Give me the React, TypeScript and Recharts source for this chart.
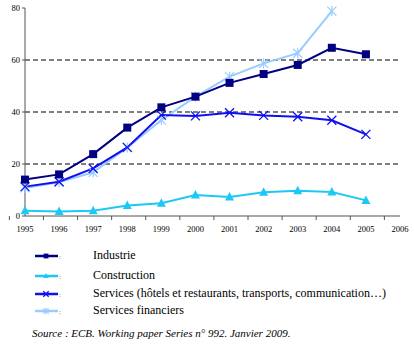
import { LineChart, Line, XAxis, YAxis, ReferenceLine } from "recharts";

const years = ["1995", "1996", "1997", "1998", "1999", "2000", "2001", "2002", "2003", "2004", "2005", "2006"];
const industrie = [14, 16, 23.8, 34, 41.8, 45.9, 51.2, 54.6, 58.1, 64.7, 62.2, null];
const construction = [2, 1.7, 2, 4, 4.9, 8.1, 7.3, 9.1, 9.7, 9.2, 6, null];
const services = [11.3, 13.2, 18.3, 26.4, 38.8, 38.5, 39.7, 38.7, 38.2, 36.8, 31.4, null];
const financiers = [10.8, 13, 16.8, 26.3, 36.9, 45.9, 53.6, 58.7, 62.6, 78.8, null, null];
const yTicks = [0, 20, 40, 60, 80];
const gridValues = [20, 40, 60];

const data = years.map((year, i) => ({
  year,
  industrie: industrie[i],
  construction: construction[i],
  services: services[i],
  financiers: financiers[i],
}));

const NAVY = "#000080";
const CYAN = "#1ec8f5";
const BLUE = "#1010ee";
const LIGHT = "#99ccff";
const SERIF = "'Times New Roman', 'Liberation Serif', 'DejaVu Serif', serif";

type Kind = "square" | "triangle" | "cross" | "star";

function Marker({ kind, cx, cy, color, s = 1 }: { kind: Kind; cx: number; cy: number; color: string; s?: number }) {
  if (kind === "square") return <rect x={cx - 4 * s} y={cy - 4 * s} width={8 * s} height={8 * s} fill={color} />;
  if (kind === "triangle")
    return (
      <polygon
        points={`${cx},${cy - 5 * s} ${cx + 4.5 * s},${cy + 3.5 * s} ${cx - 4.5 * s},${cy + 3.5 * s}`}
        fill={color}
      />
    );
  const d = 4.5 * s;
  if (kind === "cross")
    return (
      <g stroke={color} strokeWidth={1.3}>
        <line x1={cx - d} y1={cy - d} x2={cx + d} y2={cy + d} />
        <line x1={cx - d} y1={cy + d} x2={cx + d} y2={cy - d} />
      </g>
    );
  return (
    <g stroke={color} strokeWidth={1.2}>
      <line x1={cx - d} y1={cy - d} x2={cx + d} y2={cy + d} />
      <line x1={cx - d} y1={cy + d} x2={cx + d} y2={cy - d} />
      <line x1={cx} y1={cy - d - 0.5} x2={cx} y2={cy + d + 0.5} />
    </g>
  );
}

const dotFor = (kind: Kind, color: string) => (props: any) => {
  const { cx, cy, index, value } = props;
  if (value == null || cx == null || cy == null) return <g key={`${kind}-${index}`} />;
  return (
    <g key={`${kind}-${index}`}>
      <Marker kind={kind} cx={cx} cy={cy} color={color} />
    </g>
  );
};

const YEAR_BAND = 375 / years.length;

function YearTick(props: any) {
  const { x, y, payload, index } = props;
  const last = index === years.length - 1;
  return (
    <g>
      <line x1={x - YEAR_BAND / 2} y1={y - 8} x2={x - YEAR_BAND / 2} y2={y - 4} stroke="#555" />
      {last && <line x1={x + YEAR_BAND / 2} y1={y - 8} x2={x + YEAR_BAND / 2} y2={y - 4} stroke="#555" />}
      <text x={x} y={y + 8} textAnchor="middle" fontSize={8.5} fontFamily={SERIF} fill="#000">
        {payload.value}
      </text>
    </g>
  );
}

const legend: { label: string; kind: Kind; color: string }[] = [
  { label: "Industrie", kind: "square", color: NAVY },
  { label: "Construction", kind: "triangle", color: CYAN },
  { label: "Services (hôtels et restaurants, transports, communication…)", kind: "cross", color: BLUE },
  { label: "Services financiers", kind: "star", color: LIGHT },
];

export default function App() {
  return (
    <div style={{ position: "absolute", left: 0, top: 0, width: 414, height: 351, background: "#fff" }}>
      <LineChart width={414} height={240} data={data} margin={{ top: 8, right: 14, left: 0, bottom: 0 }}>
        <XAxis
          dataKey="year"
          stroke="#555"
          tickLine={false}
          height={24}
          tick={<YearTick />}
          interval={0}
        />
        <YAxis
          domain={[0, 80]}
          ticks={yTicks}
          width={25}
          stroke="#555"
          tickSize={3}
          tick={{ fontSize: 8.5, fontFamily: SERIF, fill: "#000" }}
        />
        {gridValues.map((v) => (
          <ReferenceLine key={v} y={v} stroke="#000" strokeDasharray="5 3" strokeWidth={1} />
        ))}
        <Line dataKey="construction" stroke={CYAN} strokeWidth={2} dot={dotFor("triangle", CYAN)} isAnimationActive={false} />
        <Line dataKey="financiers" stroke={LIGHT} strokeWidth={2} dot={dotFor("star", LIGHT)} isAnimationActive={false} />
        <Line dataKey="services" stroke={BLUE} strokeWidth={2} dot={dotFor("cross", BLUE)} isAnimationActive={false} />
        <Line dataKey="industrie" stroke={NAVY} strokeWidth={2} dot={dotFor("square", NAVY)} isAnimationActive={false} />
      </LineChart>
      {legend.map((item, i) => (
        <div
          key={item.label}
          style={{
            position: "absolute",
            left: 34,
            top: [248, 268, 286, 303][i],
            display: "flex",
            alignItems: "center",
            fontFamily: SERIF,
            fontSize: 12,
            whiteSpace: "nowrap",
          }}
        >
          <svg width={28} height={12}>
            <line x1={1} y1={6} x2={24} y2={6} stroke={item.color} strokeWidth={2.5} />
            <Marker kind={item.kind} cx={12} cy={6} color={item.color} s={0.6} />
            <text x={25} y={9} fontSize={7} fill="#666">:</text>
          </svg>
          <span style={{ marginLeft: 31 }}>{item.label}</span>
        </div>
      ))}
      <div
        style={{
          position: "absolute",
          left: 32,
          top: 327,
          fontFamily: SERIF,
          fontStyle: "italic",
          fontSize: 11,
          whiteSpace: "nowrap",
        }}
      >
        Source : ECB. Working paper Series n° 992. Janvier 2009.
      </div>
    </div>
  );
}
